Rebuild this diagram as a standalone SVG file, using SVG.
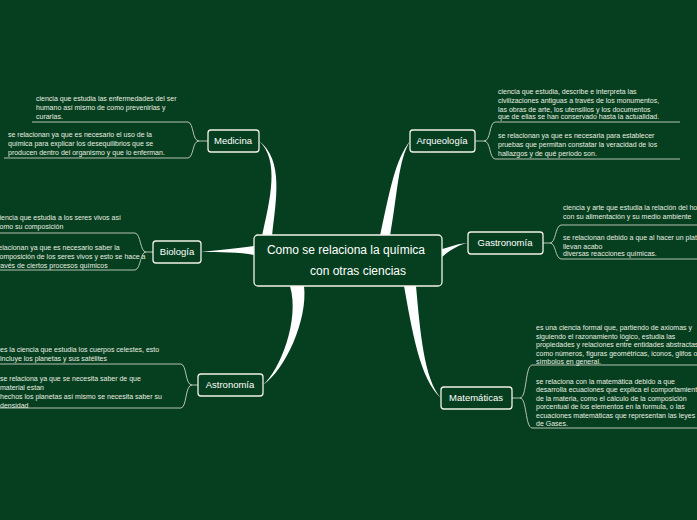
<svg xmlns="http://www.w3.org/2000/svg" width="697" height="520" viewBox="0 0 697 520">
<style>
.bg{fill:#063f1f}
.node rect{fill:#063f1f;stroke:#f2f2ea;stroke-width:1.3}
.node text{fill:#fff;font-family:"Liberation Sans",sans-serif;font-size:9.5px;text-anchor:middle}
#center text{font-size:12px}
.leaf{fill:#e8eee0;font-family:"Liberation Sans",sans-serif;font-size:7px}
.br{fill:#fff}
.ln{fill:none;stroke:#c8d0c4;stroke-width:0.9}
</style>
<rect class="bg" width="697" height="520"/>
<g id="connectors">
<path class="br" d="M262,236 C270,200 280,160 259,141 C284,160 276,200 272,236 Z"/>
<path class="br" d="M254,255 C240,252 220,252 201,252 C220,250 240,248 254,246 Z"/>
<path class="br" d="M290,286 C300,320 280,370 263,385 C285,370 308,320 304,286 Z"/>
<path class="br" d="M380,236 C390,190 395,160 410,141 C398,162 398,190 390,236 Z"/>
<path class="br" d="M442,249 C450,247 460,243 468,243 C460,244 450,250 442,257 Z"/>
<path class="br" d="M404,286 C412,330 420,380 441,398 C424,380 420,330 416,286 Z"/>
<path class="ln" d="M208,141 H199 C192,141 194,123 188,122 H32 M199,141 C192,141 194,157 188,158 H4"/>
<path class="ln" d="M153,252 H146 C140,252 141,234 135,233 H0 M146,252 C140,252 141,269 135,270 H0"/>
<path class="ln" d="M198,385 H192 C185,385 187,365 181,364 H0 M192,385 C185,385 187,407 181,408 H0"/>
<path class="ln" d="M475,141 H484 C491,141 489,123 495,122 H680 M484,141 C491,141 489,158 495,159 H680"/>
<path class="ln" d="M543,243 H550 C556,243 555,226 561,225 H697 M550,243 C556,243 555,258 561,259 H697"/>
<path class="ln" d="M512,398 H520 C527,398 525,366 532,365 H697 M520,398 C527,398 525,427 532,428 H697"/>
</g>
<g id="center" class="node"><rect x="254" y="235" width="188" height="51" rx="4"/><text x="346" y="254">Como se relaciona la química</text><text x="358" y="275">con otras ciencias</text></g>
<g id="medicina" class="node"><rect x="208" y="130" width="51" height="22" rx="3"/><text x="233" y="144">Medicina</text></g>
<g id="biologia" class="node"><rect x="153" y="241" width="48" height="22" rx="3"/><text x="177" y="255">Biología</text></g>
<g id="astronomia" class="node"><rect x="198" y="374" width="65" height="22" rx="3"/><text x="230" y="388">Astronomía</text></g>
<g id="arqueologia" class="node"><rect x="410" y="130" width="65" height="22" rx="3"/><text x="442" y="144">Arqueología</text></g>
<g id="gastronomia" class="node"><rect x="468" y="232" width="75" height="22" rx="3"/><text x="505" y="246">Gastronomía</text></g>
<g id="matematicas" class="node"><rect x="441" y="387" width="71" height="22" rx="3"/><text x="476" y="401">Matemáticas</text></g>
<g id="leaves" class="leaf">
<text x="36" y="101">ciencia que estudia las enfermedades del ser</text>
<text x="36" y="110">humano así mismo de como prevenirlas y</text>
<text x="36" y="119">curarlas.</text>
<text x="8" y="137">se relacionan ya que es necesario el uso de la</text>
<text x="8" y="146">química para explicar los desequilibrios que se</text>
<text x="8" y="155">producen dentro del organismo y que lo enferman.</text>
<text x="-4" y="220">ciencia que estudia a los seres vivos así</text>
<text x="-4" y="229">como su composición</text>
<text x="-4" y="250">relacionan ya que es necesario saber la</text>
<text x="-4" y="259">composición de los seres vivos y esto se hace a</text>
<text x="-4" y="268">través de ciertos procesos químicos</text>
<text x="0" y="352">es la ciencia que estudia los cuerpos celestes, esto</text>
<text x="0" y="361">incluye los planetas y sus satélites</text>
<text x="0" y="381">se relaciona ya que se necesita saber de que</text>
<text x="0" y="390">material estan</text>
<text x="0" y="399">hechos los planetas así mismo se necesita saber su</text>
<text x="0" y="408">densidad</text>
<text x="498" y="94">ciencia que estudia, describe e interpreta las</text>
<text x="498" y="103">civilizaciones antiguas a través de los monumentos,</text>
<text x="498" y="112">las obras de arte, los utensilios y los documentos</text>
<text x="498" y="119">que de ellas se han conservado hasta la actualidad.</text>
<text x="498" y="138">se relacionan ya que es necesaria para establecer</text>
<text x="498" y="147">pruebas que permitan constatar la veracidad de los</text>
<text x="498" y="156">hallazgos y de qué periodo son.</text>
<text x="563" y="210">ciencia y arte que estudia la relación del hombre</text>
<text x="563" y="219">con su alimentación y su medio ambiente</text>
<text x="563" y="240">se relacionan debido a que al hacer un platillo</text>
<text x="563" y="249">llevan acabo</text>
<text x="563" y="256">diversas reacciones químicas.</text>
<text x="536" y="330">es una ciencia formal que, partiendo de axiomas y</text>
<text x="536" y="339">siguiendo el razonamiento lógico, estudia las</text>
<text x="536" y="347">propiedades y relaciones entre entidades abstractas</text>
<text x="536" y="356">como números, figuras geométricas, iconos, glifos o</text>
<text x="536" y="364">símbolos en general.</text>
<text x="536" y="384">se relaciona con la matemática debido a que</text>
<text x="536" y="392">desarrolla ecuaciones que explica el comportamiento</text>
<text x="536" y="401">de la materia, como el cálculo de la composición</text>
<text x="536" y="409">porcentual de los elementos en la formula, o las</text>
<text x="536" y="418">ecuaciones matemáticas que representan las leyes</text>
<text x="536" y="426">de Gases.</text>
</g>
</svg>
